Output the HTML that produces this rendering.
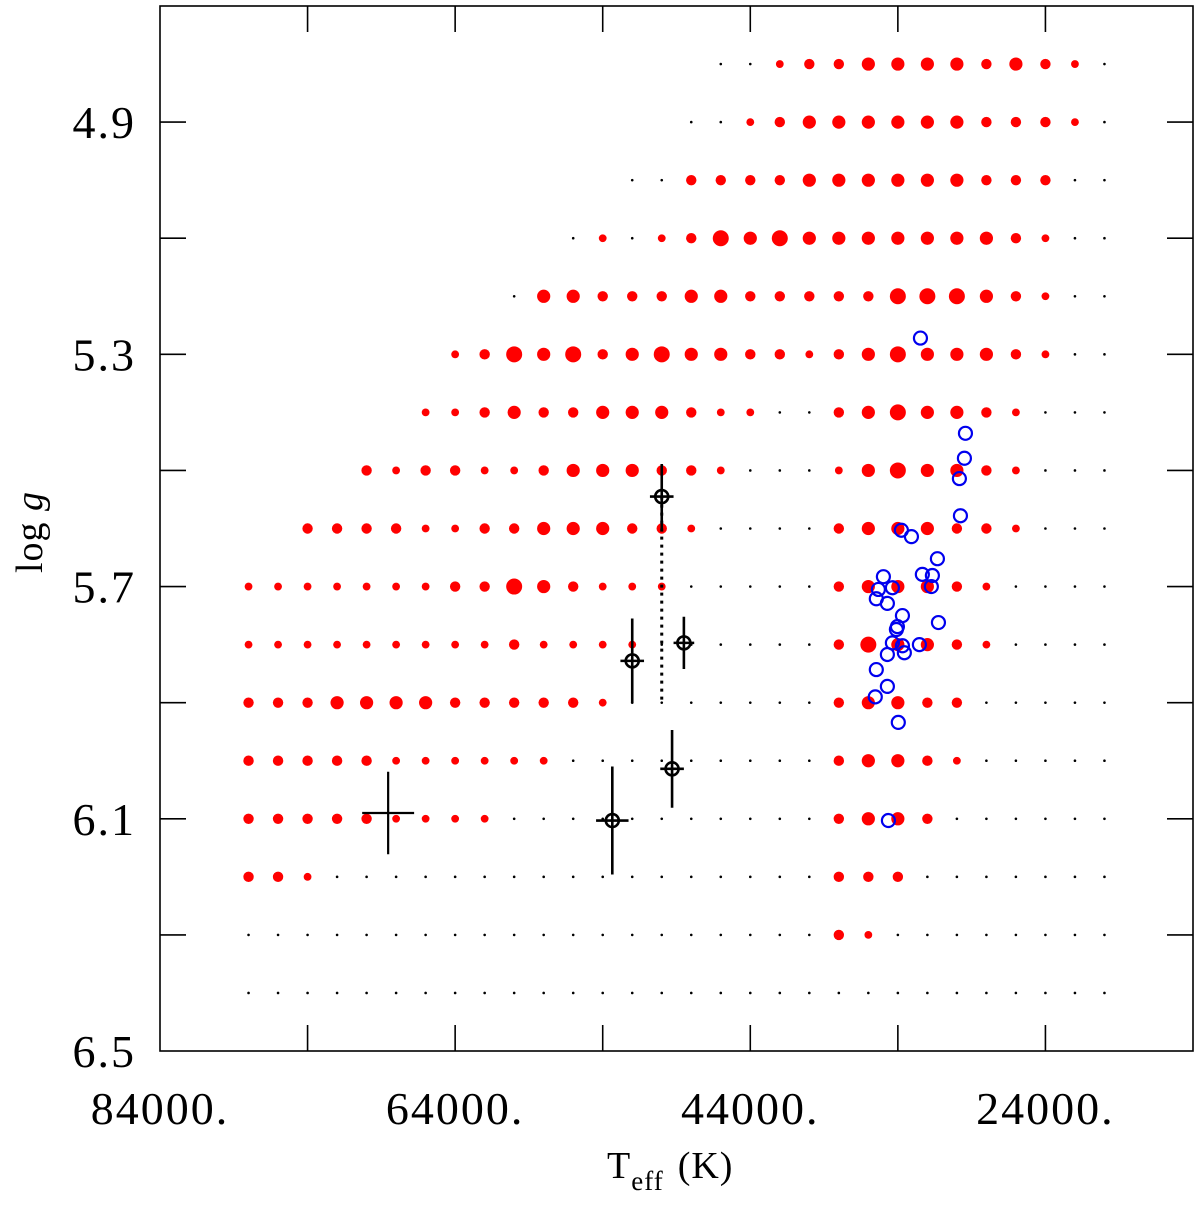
<!DOCTYPE html>
<html><head><meta charset="utf-8">
<style>
html,body{margin:0;padding:0;background:#fff;}
svg{display:block;font-family:"Liberation Serif",serif;}
</style></head>
<body>
<svg id="chart" width="1200" height="1215" viewBox="0 0 1200 1215" xmlns="http://www.w3.org/2000/svg">
  <g id="grid"></g>
  <g id="marks"></g>
  <g id="axes"></g>
</svg>
<script>
// grid definition
const gridTemps = [78000,76000,74000,72000,70000,68000,66000,64000,62000,60000,58000,56000,54000,52000,50000,48000,46000,44000,42000,40000,38000,36000,34000,32000,30000,28000,26000,24000,22000,20000];
const gridLogg = [4.8,4.9,5.0,5.1,5.2,5.3,5.4,5.5,5.6,5.7,5.8,5.9,6.0,6.1,6.2,6.3,6.4];
// size class per grid cell (-1 none, 0 black dot, 1..4 red sizes)
const gridSizes = [
 [-1,-1,-1,-1,-1,-1,-1,-1,-1,-1,-1,-1,-1,-1,-1,-1,0,0,1,2,2,3,3,3,3,2,3,2,1,0],
 [-1,-1,-1,-1,-1,-1,-1,-1,-1,-1,-1,-1,-1,-1,-1,0,0,1,2,3,3,3,3,3,3,2,2,2,1,0],
 [-1,-1,-1,-1,-1,-1,-1,-1,-1,-1,-1,-1,-1,0,0,2,2,2,2,3,3,3,3,3,3,2,2,2,0,0],
 [-1,-1,-1,-1,-1,-1,-1,-1,-1,-1,-1,0,1,0,1,2,4,3,4,3,3,3,3,3,3,3,2,1,0,0],
 [-1,-1,-1,-1,-1,-1,-1,-1,-1,0,3,3,2,2,2,3,3,2,2,2,2,2,4,4,4,3,2,1,0,0],
 [-1,-1,-1,-1,-1,-1,-1,1,2,4,3,4,2,3,4,3,3,2,2,1,2,3,4,3,3,3,2,1,0,0],
 [-1,-1,-1,-1,-1,-1,1,1,2,3,2,2,3,3,3,2,1,1,0,0,2,3,4,3,3,2,1,0,0,0],
 [-1,-1,-1,-1,2,1,2,2,1,1,2,3,3,3,2,2,1,0,0,0,1,3,4,3,3,2,1,0,0,0],
 [-1,-1,2,2,2,2,1,1,2,2,3,3,3,2,2,1,0,0,0,0,2,3,3,3,2,2,1,0,0,0],
 [1,1,1,1,1,1,1,2,2,4,3,2,1,1,1,0,0,0,0,0,2,3,3,3,2,1,0,0,0,0],
 [1,1,1,1,1,1,1,1,1,2,1,1,1,1,0,0,0,0,0,0,2,4,3,3,2,1,0,0,0,0],
 [2,2,2,3,3,3,3,2,2,2,2,2,1,0,0,0,0,0,0,0,2,3,3,2,2,0,0,0,0,0],
 [2,2,2,2,2,1,1,1,1,1,1,0,0,0,0,0,0,0,0,0,2,3,3,2,1,0,0,0,0,0],
 [2,2,2,2,2,1,1,1,1,0,0,0,0,0,0,0,0,0,0,0,2,3,3,2,0,0,0,0,0,0],
 [2,2,1,0,0,0,0,0,0,0,0,0,0,0,0,0,0,0,0,0,2,2,2,0,0,0,0,0,0,0],
 [0,0,0,0,0,0,0,0,0,0,0,0,0,0,0,0,0,0,0,0,2,1,0,0,0,0,0,0,0,0],
 [0,0,0,0,0,0,0,0,0,0,0,0,0,0,0,0,0,0,0,0,0,0,0,0,0,0,0,0,0,0]
];
// observed stars with error bars
const starTeff = [50000,52000,48500,49300,53350];
const starLogg = [5.545,5.828,5.797,6.014,6.103];
const starErrT = [800,800,700,800,1100];
const starErrG = [0.056,0.073,0.045,0.067,0.093];
// representative error cross
const crossTeff = [68540];
const crossLogg = [6.09];
const crossErrT = [1760];
const crossErrG = [0.071];
// dotted link line
const linkTeff = [50000,50000];
const linkLogg = [5.545,5.9];
// comparison sample (blue circles)
const blueTeff = [32470,29420,29490,29830,29760,33760,33080,31320,32340,31660,31730,34980,35320,34370,35460,34710,33690,31250,34030,34100,34370,33690,33560,32540,34710,35460,34710,35530,33970,34640];
const blueLogg = [5.272,5.436,5.479,5.514,5.578,5.603,5.614,5.652,5.679,5.681,5.700,5.683,5.705,5.702,5.721,5.729,5.750,5.762,5.769,5.774,5.797,5.802,5.814,5.800,5.817,5.843,5.872,5.890,5.934,6.103];
const xTickMajor = [84000,64000,44000,24000];
const xTickLabels = ["84000.","64000.","44000.","24000."];
const xTickMinor = [74000,54000,34000];
const yTickMajor = [4.9,5.3,5.7,6.1,6.5];
const yTickLabels = ["4.9","5.3","5.7","6.1","6.5"];
const yTickMinor = [5.1,5.5,5.9,6.3];

const L=160,R=1193,T=6,B=1051;
const X0=84000,X1=14000,Y0=4.7,Y1=6.5;
function sx(v){return L+(X0-v)/(X0-X1)*(R-L);}
function sy(v){return T+(v-Y0)/(Y1-Y0)*(B-T);}
const NS="http://www.w3.org/2000/svg";
function mk(tag,parent,attrs){const e=document.createElementNS(NS,tag);for(const k in attrs)e.setAttribute(k,attrs[k]);parent.appendChild(e);return e;}
const radii=[1.3,3.9,5.2,6.6,8];

const grid=document.getElementById('grid');
gridLogg.forEach((g,r)=>{
  gridTemps.forEach((t,c)=>{
    const s=gridSizes[r][c];
    if(s===undefined||s<0)return;
    const el=mk('circle',grid,{cx:sx(t),cy:sy(g),r:radii[s],fill:s===0?'#000':'#ff0000'});
    
    
  });
});

const marks=document.getElementById('marks');
const link=mk('line',marks,{x1:sx(linkTeff[0]),y1:sy(linkLogg[0]),x2:sx(linkTeff[1]),y2:sy(linkLogg[1]),stroke:'#000','stroke-width':3,'stroke-dasharray':'3,5'});



blueTeff.forEach((t,i)=>{
  const c=mk('circle',marks,{cx:sx(t),cy:sy(blueLogg[i]),r:6.5,fill:'none',stroke:'#0000ee','stroke-width':2.2});
  
  
});

crossTeff.forEach((t,i)=>{
  const g=mk('g',marks,{stroke:'#000','stroke-width':2.2});
  
  
  mk('line',g,{x1:sx(t-crossErrT[i]),x2:sx(t+crossErrT[i]),y1:sy(crossLogg[i]),y2:sy(crossLogg[i])});
  mk('line',g,{x1:sx(t),x2:sx(t),y1:sy(crossLogg[i]-crossErrG[i]),y2:sy(crossLogg[i]+crossErrG[i])});
});

starTeff.forEach((t,i)=>{
  const g=mk('g',marks,{stroke:'#000','stroke-width':2.6,fill:'none'});
  
  
  const x=sx(t),y=sy(starLogg[i]);
  mk('line',g,{x1:sx(t-starErrT[i]),x2:sx(t+starErrT[i]),y1:y,y2:y});
  mk('line',g,{x1:x,x2:x,y1:sy(starLogg[i]-starErrG[i]),y2:sy(starLogg[i]+starErrG[i])});
  mk('circle',g,{cx:x,cy:y,r:6.5});
});

const axes=document.getElementById('axes');
const frame=mk('rect',axes,{x:L,y:T,width:R-L,height:B-T,fill:'none',stroke:'#000','stroke-width':1.6});


xTickMajor.concat(xTickMinor).forEach(v=>{
  if(v>=X0)return;
  const x=sx(v);
  const t1=mk('line',axes,{x1:x,x2:x,y1:B,y2:B-26,stroke:'#000','stroke-width':1.6});
  
  
  const t2=mk('line',axes,{x1:x,x2:x,y1:T,y2:T+26,stroke:'#000','stroke-width':1.6});
  
  
});
xTickMajor.forEach((v,i)=>{
  const tx=mk('text',axes,{x:sx(v),y:1124,'text-anchor':'middle','font-size':46,'letter-spacing':2,fill:'#000'});
  tx.textContent=xTickLabels[i];
  
  
});
yTickMajor.concat(yTickMinor).forEach(v=>{
  if(v>=Y1)return;
  const y=sy(v);
  const t1=mk('line',axes,{x1:L,x2:L+26,y1:y,y2:y,stroke:'#000','stroke-width':1.6});
  
  
  const t2=mk('line',axes,{x1:R,x2:R-26,y1:y,y2:y,stroke:'#000','stroke-width':1.6});
  
  
});
yTickMajor.forEach((v,i)=>{
  const tx=mk('text',axes,{x:136,y:sy(v)+16,'text-anchor':'end','font-size':46,'letter-spacing':2,fill:'#000'});
  tx.textContent=yTickLabels[i];
  
  
});
</script>
<svg style="position:absolute;left:0;top:0" width="1200" height="1215">
  <text x="607" y="1178" font-family="Liberation Serif, serif" font-size="38" letter-spacing="1">T<tspan font-size="27" dy="12">eff</tspan><tspan dy="-12" dx="14">(K)</tspan></text>
  <text transform="translate(42,532) rotate(-90)" text-anchor="middle" font-family="Liberation Serif, serif" font-size="38" letter-spacing="1">log <tspan font-style="italic">g</tspan></text>
</svg>
</body></html>
